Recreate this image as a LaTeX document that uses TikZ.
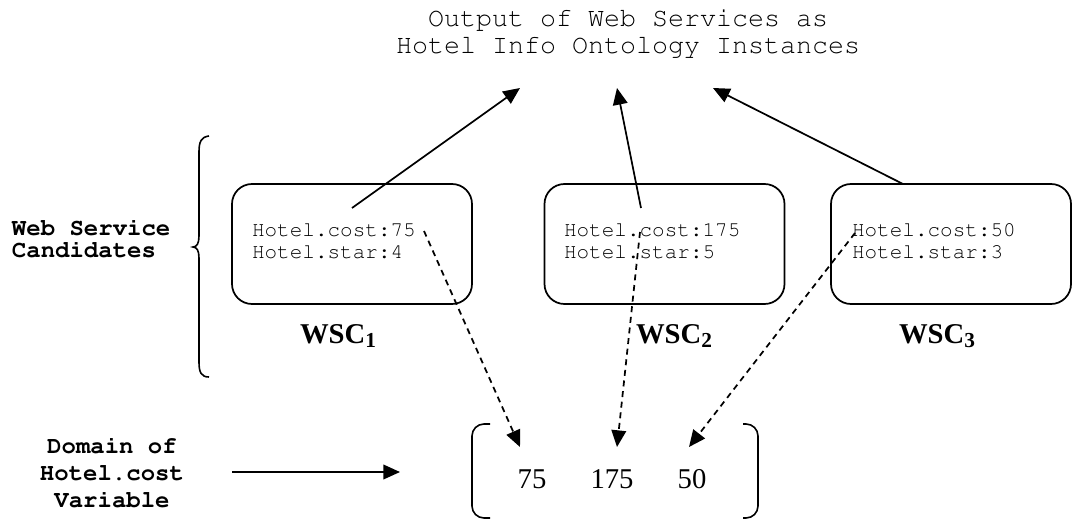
\documentclass[tikz,border=0pt]{standalone}
\usepackage{fontspec}
\setmainfont{Liberation Serif}
\setmonofont{Liberation Mono}
\usetikzlibrary{arrows.meta}
\newcommand{\cour}{\fontencoding{T1}\fontfamily{pcr}\selectfont}
\begin{document}
\begin{tikzpicture}[x=0.75pt,y=-0.75pt,
  every node/.style={inner sep=0pt, outer sep=0pt},
  box/.style={draw, line width=1.3pt, rounded corners=15pt, minimum width=180pt, minimum height=90pt},
  mono/.style={font=\cour\fontsize{15.75}{16.3}\selectfont, align=left, anchor=base west},
  lbl/.style={font=\cour\bfseries\fontsize{18}{16.5}\selectfont, align=left, anchor=base west},
  dlbl/.style={font=\cour\bfseries\fontsize{18}{20.25}\selectfont, align=center, anchor=base},
  wsc/.style={font=\bfseries\fontsize{21.5}{24}\selectfont, anchor=base west},
  num/.style={font=\fontsize{21.5}{24}\selectfont, anchor=base},
  arr/.style={-{Triangle[length=12.5pt,width=11pt]}, line width=1.3pt},
  darr/.style={arr, dash pattern=on 4.5pt off 3.5pt},
  brk/.style={line width=1.2pt}]
\useasboundingbox (0,0) rectangle (1072,521);

% title
\node[font=\cour\fontsize{20}{20.25}\selectfont, align=center, anchor=base] (title) at (628,53) {Output of Web Services as\\Hotel Info Ontology Instances};

% boxes
\node[box] (b1) at (352,244) {};
\node[box] (b2) at (664.5,244) {};
\node[box] (b3) at (951,244) {};

\node[mono] (t1) at (252,258) {Hotel.cost:75\\Hotel.star:4};
\node[mono] (t2) at (564,258) {Hotel.cost:175\\Hotel.star:5};
\node[mono] (t3) at (852,258) {Hotel.cost:50\\Hotel.star:3};

\node[wsc] (w1) at (300,343) {WSC\raisebox{-3pt}{\fontsize{16}{16}\selectfont 1}};
\node[wsc] (w2) at (636,343) {WSC\raisebox{-3pt}{\fontsize{16}{16}\selectfont 2}};
\node[wsc] (w3) at (899,343) {WSC\raisebox{-3pt}{\fontsize{16}{16}\selectfont 3}};

% left labels
\node[lbl] (wscl) at (12,257) {Web Service\\Candidates};
\node[dlbl] (dom) at (112,507) {Domain of\\Hotel.cost\\Variable};

% brace
\draw[brk] (209,136) .. controls (201,137) and (199,142) .. (199,152) -- (199,236)
  .. controls (199,243) and (197,247) .. (193,247)
  .. controls (197,247) and (199,251) .. (199,258) -- (199,362)
  .. controls (199,372) and (201,377) .. (209,377);

% domain bracket and values
\draw[brk, rounded corners=9pt] (490,424) -- (472,424) -- (472,518) -- (490,518);
\draw[brk, rounded corners=9pt] (743,424) -- (758,424) -- (758,518) -- (743,518);
\node[num] (n1) at (532,488) {75};
\node[num] (n2) at (612,488) {175};
\node[num] (n3) at (692,488) {50};

% coordinates
\coordinate (s1) at (352,208);
\coordinate (s2) at (641,208);
\coordinate (s3) at (903,184);
\coordinate (o1) at (520,88);
\coordinate (o2) at (617,88);
\coordinate (o3) at (713,88);
\coordinate (d1) at (424,231);
\coordinate (d2) at (640,232);
\coordinate (d3) at (855,233);
\coordinate (e1) at (520,447);
\coordinate (e2) at (617,447);
\coordinate (e3) at (689,447);
\coordinate (da) at (232,472);
\coordinate (db) at (400,472);

\draw[arr] (s1) -- (o1);
\draw[arr] (s2) -- (o2);
\draw[arr] (s3) -- (o3);
\draw[darr] (d1) -- (e1);
\draw[darr] (d2) -- (e2);
\draw[darr] (d3) -- (e3);
\draw[arr] (da) -- (db);
\end{tikzpicture}
\end{document}
